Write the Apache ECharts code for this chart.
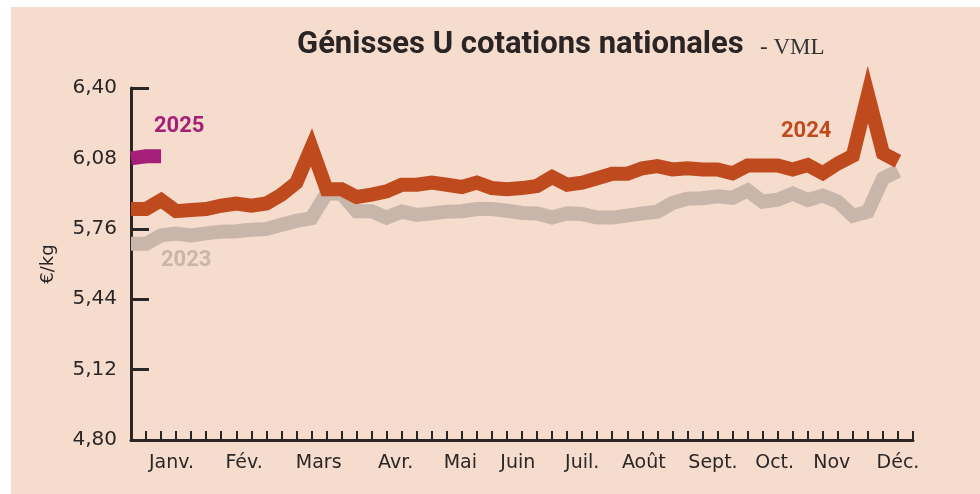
<!DOCTYPE html>
<html>
<head>
<meta charset="utf-8">
<script src="https://cdn.jsdelivr.net/npm/echarts@6/dist/echarts.min.js"></script>
<style>
html,body{margin:0;padding:0;background:#fff;}
#c{width:980px;height:494px;}
</style>
</head>
<body>
<div id="c"></div>
<script>
// Weekly quotations (€/kg), week index 0..51
const values2024 = [5.85,5.85,5.89,5.84,5.845,5.85,5.865,5.875,5.865,5.875,5.915,5.97,6.13,5.94,5.94,5.905,5.915,5.93,5.96,5.96,5.97,5.96,5.95,5.97,5.945,5.94,5.945,5.955,5.995,5.96,5.97,5.99,6.01,6.01,6.035,6.045,6.03,6.035,6.03,6.03,6.012,6.048,6.048,6.048,6.03,6.05,6.013,6.057,6.092,6.37,6.103,6.067];
const values2023 = [5.692,5.692,5.73,5.738,5.73,5.739,5.747,5.749,5.756,5.759,5.778,5.796,5.808,5.92,5.92,5.84,5.84,5.811,5.838,5.823,5.83,5.838,5.84,5.85,5.85,5.842,5.832,5.83,5.811,5.83,5.827,5.811,5.811,5.82,5.83,5.838,5.877,5.897,5.899,5.908,5.901,5.934,5.883,5.892,5.92,5.891,5.911,5.883,5.819,5.838,5.989,6.023];
const values2025 = [6.08,6.09,6.09];
const monthNames = ['Janv.','Fév.','Mars','Avr.','Mai','Juin','Juil.','Août','Sept.','Oct.','Nov','Déc.'];
const monthPos = [2.69,7.52,12.48,17.6,21.9,25.72,30.0,34.1,38.7,42.8,46.6,51.0];
const yTicks = {min:4.80, max:6.40, step:0.32};

const toPairs = arr => arr.map((v,i)=>[i,v]);
const dark = '#2b2626';
const chart = echarts.init(document.getElementById('c'), null, {renderer:'canvas'});
chart.setOption({
  animation:false,
  backgroundColor:'transparent',
  grid:{left:131,right:67,top:88,bottom:54},
  graphic:[
    {type:'rect', z:-10, silent:true, shape:{x:11,y:7,width:969,height:487}, style:{fill:'#f5dccd'}},
    {type:'text', left:297, top:30, style:{text:'Génisses U cotations nationales', fill:'#2a2424', font:'bold 31px Roboto'}},
    {type:'text', left:760, top:36, style:{text:'- VML', fill:'#333', font:'23px "Liberation Serif", serif'}},
    {type:'text', left:154, top:115, style:{text:'2025', fill:'#a51e78', font:'bold 22px Roboto'}},
    {type:'text', left:781, top:120, style:{text:'2024', fill:'#bf4a1e', font:'bold 22px Roboto'}},
    {type:'text', left:161, top:249, style:{text:'2023', fill:'#c9b6ab', font:'bold 22px Roboto'}}
  ],
  xAxis:[
    {type:'value', min:0, max:52, interval:1, position:'bottom',
     axisLine:{show:true, lineStyle:{color:dark, width:3}},
     axisTick:{show:true, inside:true, length:9, lineStyle:{color:dark, width:2}},
     axisLabel:{show:false}, splitLine:{show:false}},
    {type:'value', min:0, max:52, position:'bottom', gridIndex:0,
     axisLine:{show:false}, axisTick:{show:false}, splitLine:{show:false},
     axisLabel:{show:true, customValues:monthPos, margin:14, color:dark,
       fontFamily:'DejaVu Sans', fontSize:19,
       formatter:function(v){ let k=-1; monthPos.forEach((p,i)=>{ if(Math.abs(p-v)<1e-6) k=i; }); return k>=0?monthNames[k]:''; }}}
  ],
  yAxis:{type:'value', min:yTicks.min, max:yTicks.max, interval:yTicks.step,
    name:'€/kg', nameLocation:'middle', nameRotate:90, nameGap:74,
    nameTextStyle:{color:dark, fontFamily:'DejaVu Sans', fontSize:18},
    axisLine:{show:true, lineStyle:{color:dark, width:3}},
    axisTick:{show:true, inside:true, length:18, lineStyle:{color:dark, width:3}},
    axisLabel:{color:dark, fontFamily:'DejaVu Sans', fontSize:20, margin:14,
      formatter:v=>v.toFixed(2).replace('.',',')},
    splitLine:{show:false}},
  series:[
    {name:'2023', type:'line', data:toPairs(values2023), showSymbol:false, clip:false, z:2,
     lineStyle:{color:'#c9b6ab', width:14, join:'miter', miterLimit:20, cap:'butt'}},
    {name:'2024', type:'line', data:toPairs(values2024), showSymbol:false, clip:false, z:3,
     lineStyle:{color:'#bf4a1e', width:14, join:'miter', miterLimit:20, cap:'butt'}},
    {name:'2025', type:'line', data:toPairs(values2025), showSymbol:false, clip:false, z:4,
     lineStyle:{color:'#a51e78', width:14, join:'miter', miterLimit:20, cap:'butt'}}
  ]
});
</script>
</body>
</html>
